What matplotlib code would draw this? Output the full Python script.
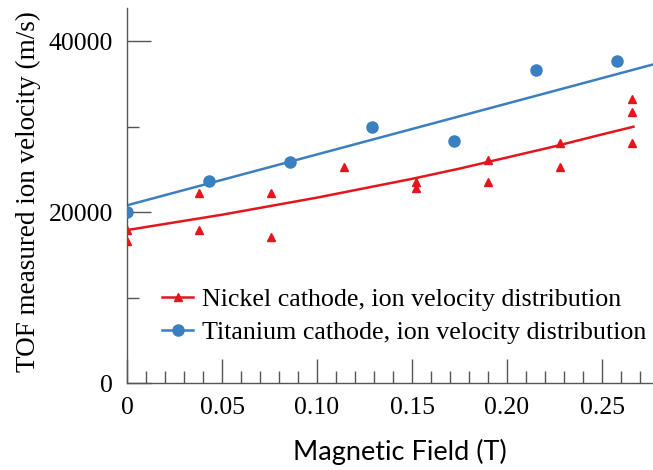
import numpy as np
import matplotlib
matplotlib.use("Agg")
import matplotlib.pyplot as plt
from matplotlib.ticker import MultipleLocator, FixedLocator

# Nickel cathode measurements (T, m/s)
ni_field = [0, 0, 0.038, 0.038, 0.076, 0.076, 0.114, 0.152, 0.152,
            0.190, 0.190, 0.228, 0.228, 0.266, 0.266, 0.266]
ni_velocity = [17900, 16650, 22200, 17900, 22200, 17050, 25250, 23550, 22800,
               26100, 23550, 28050, 25250, 33200, 31750, 28100]

# Titanium cathode measurements
ti_field = [0, 0.043, 0.086, 0.129, 0.172, 0.215, 0.258]
ti_velocity = [20000, 23650, 25900, 29950, 28300, 36700, 37650]

# fitted curves
ni_fit_field = [0, 0.025, 0.05, 0.075, 0.10, 0.125, 0.15, 0.175, 0.20, 0.225, 0.25, 0.2665]
ni_fit_velocity = [17900, 18800, 19700, 20700, 21700, 22800, 23900, 25100, 26400, 27700, 29100, 30000]
ti_fit_field = [0, 0.28]
ti_fit_velocity = [20800, 37480]

x_ticks = [0, 0.05, 0.10, 0.15, 0.20, 0.25]
x_tick_labels = ["0", "0.05", "0.10", "0.15", "0.20", "0.25"]
y_ticks = [0, 20000, 40000]

red = "#e3161d"
blue = "#3a7fc0"
axis_col = "#555555"

plt.rcParams["font.family"] = "Liberation Serif"

fig = plt.figure(figsize=(6.53, 4.70), dpi=100)
ax = fig.add_axes([127 / 653, 1 - 383 / 470, 1 - 127 / 653, (383 - 8) / 470])

# Nickel: fit line + triangles
ax.plot(ni_fit_field, ni_fit_velocity, color=red, lw=1.8, zorder=2)
ax.plot(ni_field, ni_velocity, ls="none", marker="^", ms=6, color=red, zorder=3)
# Titanium: fit line + circles
ax.plot(ti_fit_field, ti_fit_velocity, color=blue, lw=1.8, zorder=2)
ax.plot(ti_field, ti_velocity, ls="none", marker="o", ms=8, color=blue, zorder=3)

# legend proxies (line + marker)
h_ni, = ax.plot([], [], color=red, lw=1.8, marker="^", ms=6)
h_ti, = ax.plot([], [], color=blue, lw=1.8, marker="o", ms=8)
ax.legend([h_ni, h_ti],
          ["Nickel cathode, ion velocity distribution",
           "Titanium cathode, ion velocity distribution"],
          loc="upper left", bbox_to_anchor=(162 / 653, 1 - 288 / 470),
          bbox_transform=fig.transFigure, frameon=False, fontsize=18.7,
          handlelength=1.2, handletextpad=0.35, borderpad=0, borderaxespad=0,
          labelspacing=0.38)

ax.set_xlim(0, 0.2768)
ax.set_ylim(0, 43900)

ax.xaxis.set_major_locator(FixedLocator(x_ticks))
ax.set_xticklabels(x_tick_labels)
ax.xaxis.set_minor_locator(MultipleLocator(0.01))
ax.yaxis.set_major_locator(FixedLocator(y_ticks))
ax.yaxis.set_minor_locator(FixedLocator([10000, 30000]))

for side in ["top", "right"]:
    ax.spines[side].set_visible(False)
for side in ["left", "bottom"]:
    ax.spines[side].set_color(axis_col)
    ax.spines[side].set_linewidth(1.0)

ax.tick_params(which="major", direction="in", length=17, width=1.0, color=axis_col,
               labelsize=18.5, pad=10)
ax.tick_params(which="minor", direction="in", length=8.5, width=1.0, color=axis_col)
ax.tick_params(axis="x", which="major", pad=10)

fig.text(28 / 653, 1 - 192 / 470, "TOF measured ion velocity (m/s)", rotation=90,
         ha="center", va="center", fontsize=19.5)
fig.text(400 / 653, 1 - 452 / 470, "Magnetic Field (T)", ha="center", va="center",
         fontsize=19.5, family="Lato")

fig.savefig("out.png", dpi=100)
